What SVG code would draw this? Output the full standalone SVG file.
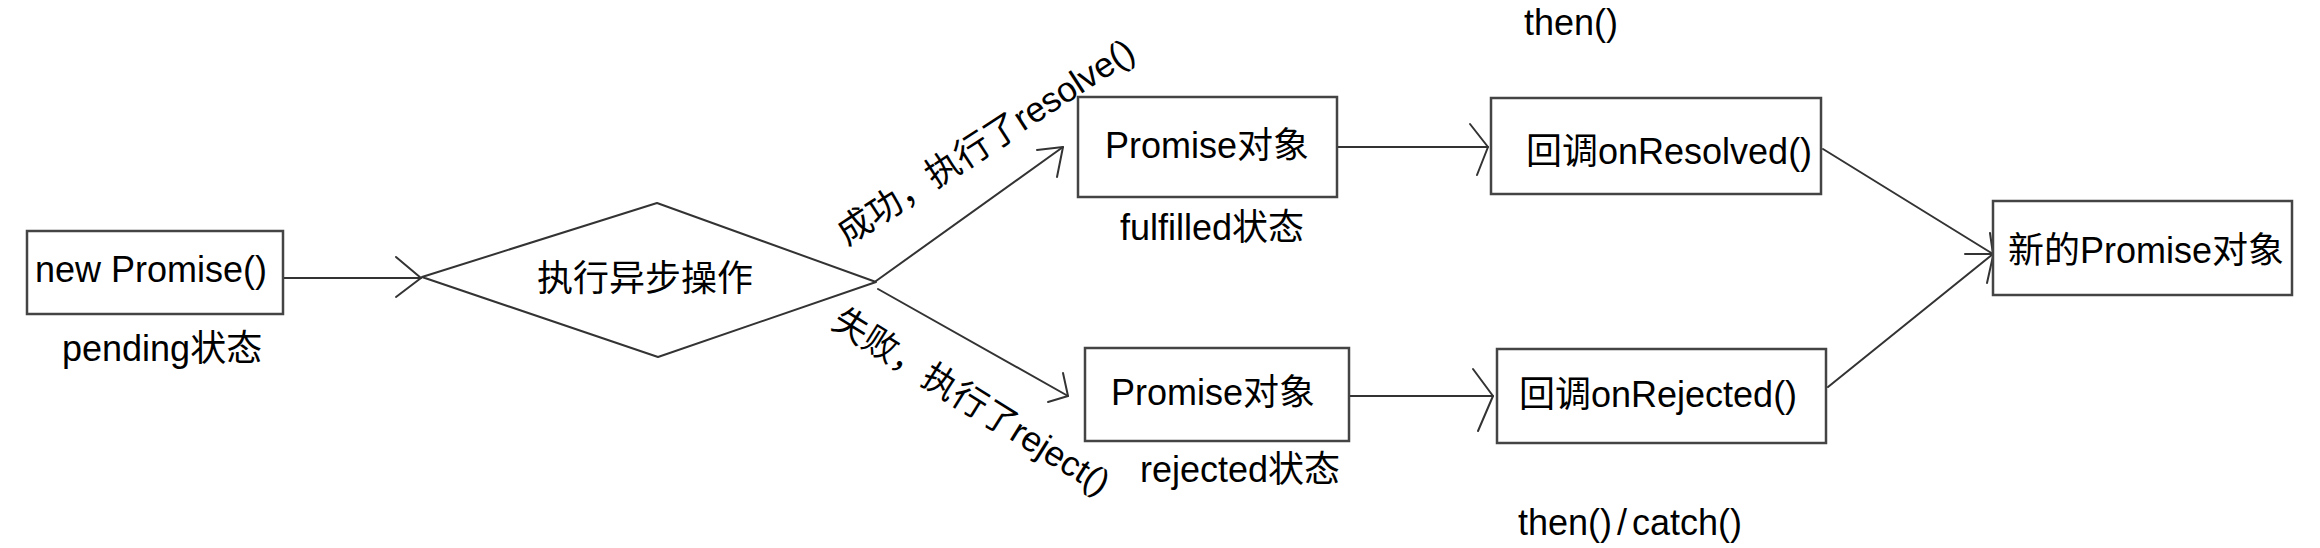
<svg xmlns="http://www.w3.org/2000/svg" width="2320" height="548" viewBox="0 0 2320 548">
<style>
  .box { fill: #ffffff; stroke: #444444; stroke-width: 2.5; }
  .ln { fill: none; stroke: #333333; stroke-width: 2; stroke-linecap: round; stroke-linejoin: round; }
  text { font-family: "Liberation Sans", "Noto Sans CJK SC", sans-serif; font-size: 36px; fill: #000000; }
  .lbl { font-size: 35px; }
</style>
<rect width="2320" height="548" fill="#ffffff"/>
<g id="connectors">
  <line class="ln" x1="283" y1="278" x2="421" y2="278"/>
  <polyline class="ln" points="396,257 421,278 396,297"/>
  <line class="ln" x1="876" y1="281" x2="1063" y2="147"/>
  <polyline class="ln" points="1037,150 1063,147 1057,177"/>
  <line class="ln" x1="878" y1="289" x2="1068" y2="396"/>
  <polyline class="ln" points="1063,373 1068,396 1048,402"/>
  <line class="ln" x1="1337" y1="147" x2="1488" y2="147"/>
  <polyline class="ln" points="1470,124 1488,147 1477,175"/>
  <line class="ln" x1="1349" y1="396" x2="1493" y2="396"/>
  <polyline class="ln" points="1473,369 1493,396 1478,431"/>
  <line class="ln" x1="1823" y1="149" x2="1993" y2="254"/>
  <polyline class="ln" points="1990,233 1993,254 1965,254"/>
  <line class="ln" x1="1828" y1="387" x2="1993" y2="254"/>
  <polyline class="ln" points="1987,283 1993,256"/>
  <text class="lbl" transform="translate(847,246) rotate(-33)">成功，执行了resolve()</text>
  <text class="lbl" transform="translate(830,327) rotate(32)">失败，执行了reject()</text>
</g>
<g id="new-promise">
  <rect class="box" x="27" y="231" width="256" height="83"/>
  <text x="35" y="282">new Promise()</text>
  <text x="62" y="361">pending状态</text>
</g>
<g id="async-op">
  <polygon class="ln" points="422,277 657,203 876,282 658,357"/>
  <text x="645" y="291" text-anchor="middle">执行异步操作</text>
</g>
<g id="promise-fulfilled">
  <rect class="box" x="1078" y="97" width="259" height="100"/>
  <text x="1207" y="158" text-anchor="middle">Promise对象</text>
  <text x="1120" y="240">fulfilled状态</text>
</g>
<g id="promise-rejected">
  <rect class="box" x="1085" y="348" width="264" height="93"/>
  <text x="1213" y="405" text-anchor="middle">Promise对象</text>
  <text x="1140" y="482">rejected状态</text>
</g>
<g id="on-resolved">
  <rect class="box" x="1491" y="98" width="330" height="96"/>
  <text x="1526" y="164">回调onResolved()</text>
  <text x="1524" y="35">then()</text>
</g>
<g id="on-rejected">
  <rect class="box" x="1497" y="349" width="329" height="94"/>
  <text x="1519" y="407">回调onRejected()</text>
  <text x="1518" y="535">then()<tspan dx="5">/</tspan><tspan dx="5">catch()</tspan></text>
</g>
<g id="new-promise-object">
  <rect class="box" x="1993" y="201" width="299" height="94"/>
  <text x="2008" y="263">新的Promise对象</text>
</g>
</svg>
